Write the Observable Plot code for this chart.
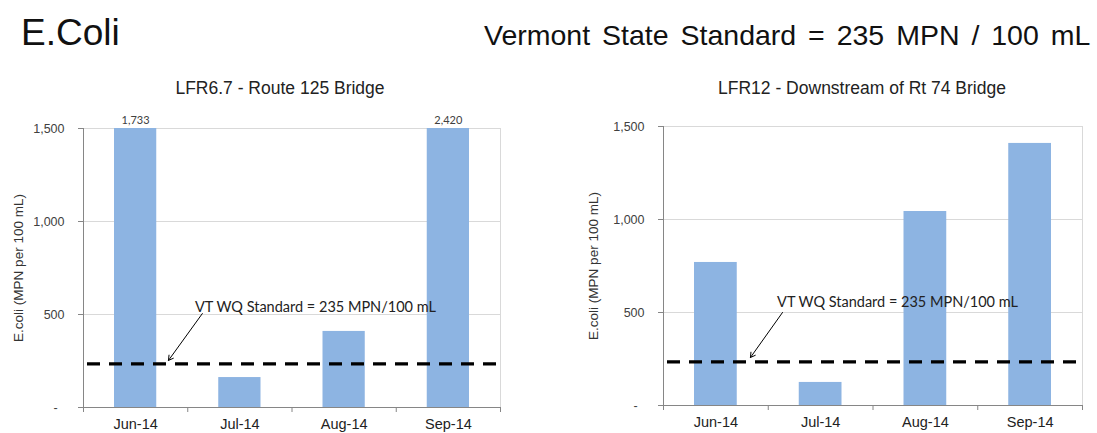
<!DOCTYPE html>
<html><head><meta charset="utf-8">
<script src="https://cdn.jsdelivr.net/npm/d3@7"></script>
<script src="https://cdn.jsdelivr.net/npm/@observablehq/plot@0.6"></script>
<style>
body{margin:0;background:#fff;}
#page{position:relative;width:1097px;height:433px;overflow:hidden;font-family:"Liberation Sans",Arial,sans-serif;color:#111;}
.abs{position:absolute;white-space:nowrap;}
.abs svg{overflow:visible;}
</style></head><body><div id="page"></div>
<script>
const months = ["Jun-14", "Jul-14", "Aug-14", "Sep-14"];
const siteA = [1733, 161, 409, 2420];   // LFR6.7 - Route 125 Bridge
const siteB = [769, 124, 1043, 1409];   // LFR12 - Downstream of Rt 74 Bridge
const standard = 235;
const yTicks = [0, 500, 1000, 1500];
const yTickLabels = ["-\u00a0\u00a0", "500", "1,000", "1,500"];
const yMax = 1500;
const mainTitle = "E.Coli";
const headline = "Vermont State Standard = 235 MPN / 100 mL";
const titleA = "LFR6.7 - Route 125 Bridge";
const titleB = "LFR12 - Downstream of Rt 74 Bridge";
const yLabel = "E.coli (MPN per 100 mL)";
const noteText = "VT WQ Standard = 235 MPN/100 mL";

const page = document.getElementById("page");
function addDiv(text, css) {
  const d = document.createElement("div");
  d.className = "abs";
  d.textContent = text;
  Object.assign(d.style, css);
  page.appendChild(d);
  return d;
}

function chart(values, o) {
  const data = months.map((m, i) => ({i, month: m, value: values[i]}));
  const n = months.length;
  return Plot.plot({
    width: o.width, height: 323,
    marginLeft: 83, marginRight: o.marginRight, marginTop: o.marginTop, marginBottom: o.marginBottom,
    style: {fontFamily: "Liberation Sans, Arial, sans-serif", background: "transparent"},
    x: {type: "linear", domain: [0, n], axis: null},
    y: {domain: [0, yMax], clamp: true, axis: null},
    marks: [
      Plot.gridY(yTicks.slice(1), {stroke: "#d9d9d9", strokeOpacity: 1}),
      Plot.ruleX([n], {stroke: "#d9d9d9"}),
      Plot.rect(data, {x1: d => d.i, x2: d => d.i + 1, y1: 0, y2: "value", insetLeft: 31, insetRight: 31, fill: "#8db4e2"}),
      Plot.text(data.filter(d => d.value > yMax), {x: d => d.i + 0.5, y: "value", text: d => d3.format(",")(d.value), dy: -8, fontFamily: "Lato, sans-serif", fontSize: 11, fill: "#404040"}),
      Plot.ruleX([0], {stroke: "#868686"}),
      Plot.ruleY([0], {stroke: "#868686"}),
      Plot.ruleY([standard], {stroke: "#000", strokeWidth: 3.2, strokeDasharray: "13,9", insetLeft: 4, insetRight: 4}),
      Plot.axisY({ticks: yTicks, tickFormat: d => yTickLabels[yTicks.indexOf(d)], tickSize: 5, tickPadding: 14, stroke: "#868686", fontSize: 12.5, color: "#404040", label: null}),
      Plot.text([yLabel], {frameAnchor: "left", rotate: -90, dx: -o.labelOffset, textAnchor: "middle", lineAnchor: "middle", text: d => d, fontSize: 13.5, fill: "#333"}),
      Plot.axisX({ticks: d3.range(n + 1), tickFormat: () => "", tickSize: 5, stroke: "#868686", label: null}),
      Plot.axisX({ticks: d3.range(n).map(i => i + 0.5), tickFormat: t => months[Math.floor(t)], tickSize: 0, tickPadding: 11, fontSize: 14.5, color: "#222", label: null}),
      Plot.text([noteText], {x: o.note.x, y: o.note.y, text: d => d, fontFamily: "Lato, sans-serif", fontSize: 14.5, fill: "#222"}),
      Plot.arrow([0], {x1: o.arrow[0], y1: o.arrow[1], x2: o.arrow[2], y2: o.arrow[3], stroke: "#000", strokeWidth: 1, headLength: 8})
    ]
  });
}

addDiv(mainTitle, {left: "21px", top: "14px", fontSize: "37px", lineHeight: "37px"});
addDiv(headline, {left: "484px", top: "21px", fontSize: "28.5px", lineHeight: "28px", wordSpacing: "4px"});
addDiv(titleA, {left: "130px", top: "79px", width: "300px", textAlign: "center", fontSize: "17.5px", lineHeight: "18px", color: "#222"});
addDiv(titleB, {left: "712px", top: "79px", width: "300px", textAlign: "center", fontSize: "17.5px", lineHeight: "18px", color: "#222"});

const wrapA = addDiv("", {left: "0px", top: "110px"});
wrapA.appendChild(chart(siteA, {width: 520, marginRight: 20, marginTop: 18, marginBottom: 26, labelOffset: 65,
  note: {x: 2.225, y: 537}, arrow: [1.14, 505, 0.815, 253]}));
const wrapB = addDiv("", {left: "580px", top: "110px"});
wrapB.appendChild(chart(siteB, {width: 517, marginRight: 15, marginTop: 16, marginBottom: 28, labelOffset: 70,
  note: {x: 2.234, y: 554}, arrow: [1.136, 500, 0.83, 258]}));
</script>
</body></html>
